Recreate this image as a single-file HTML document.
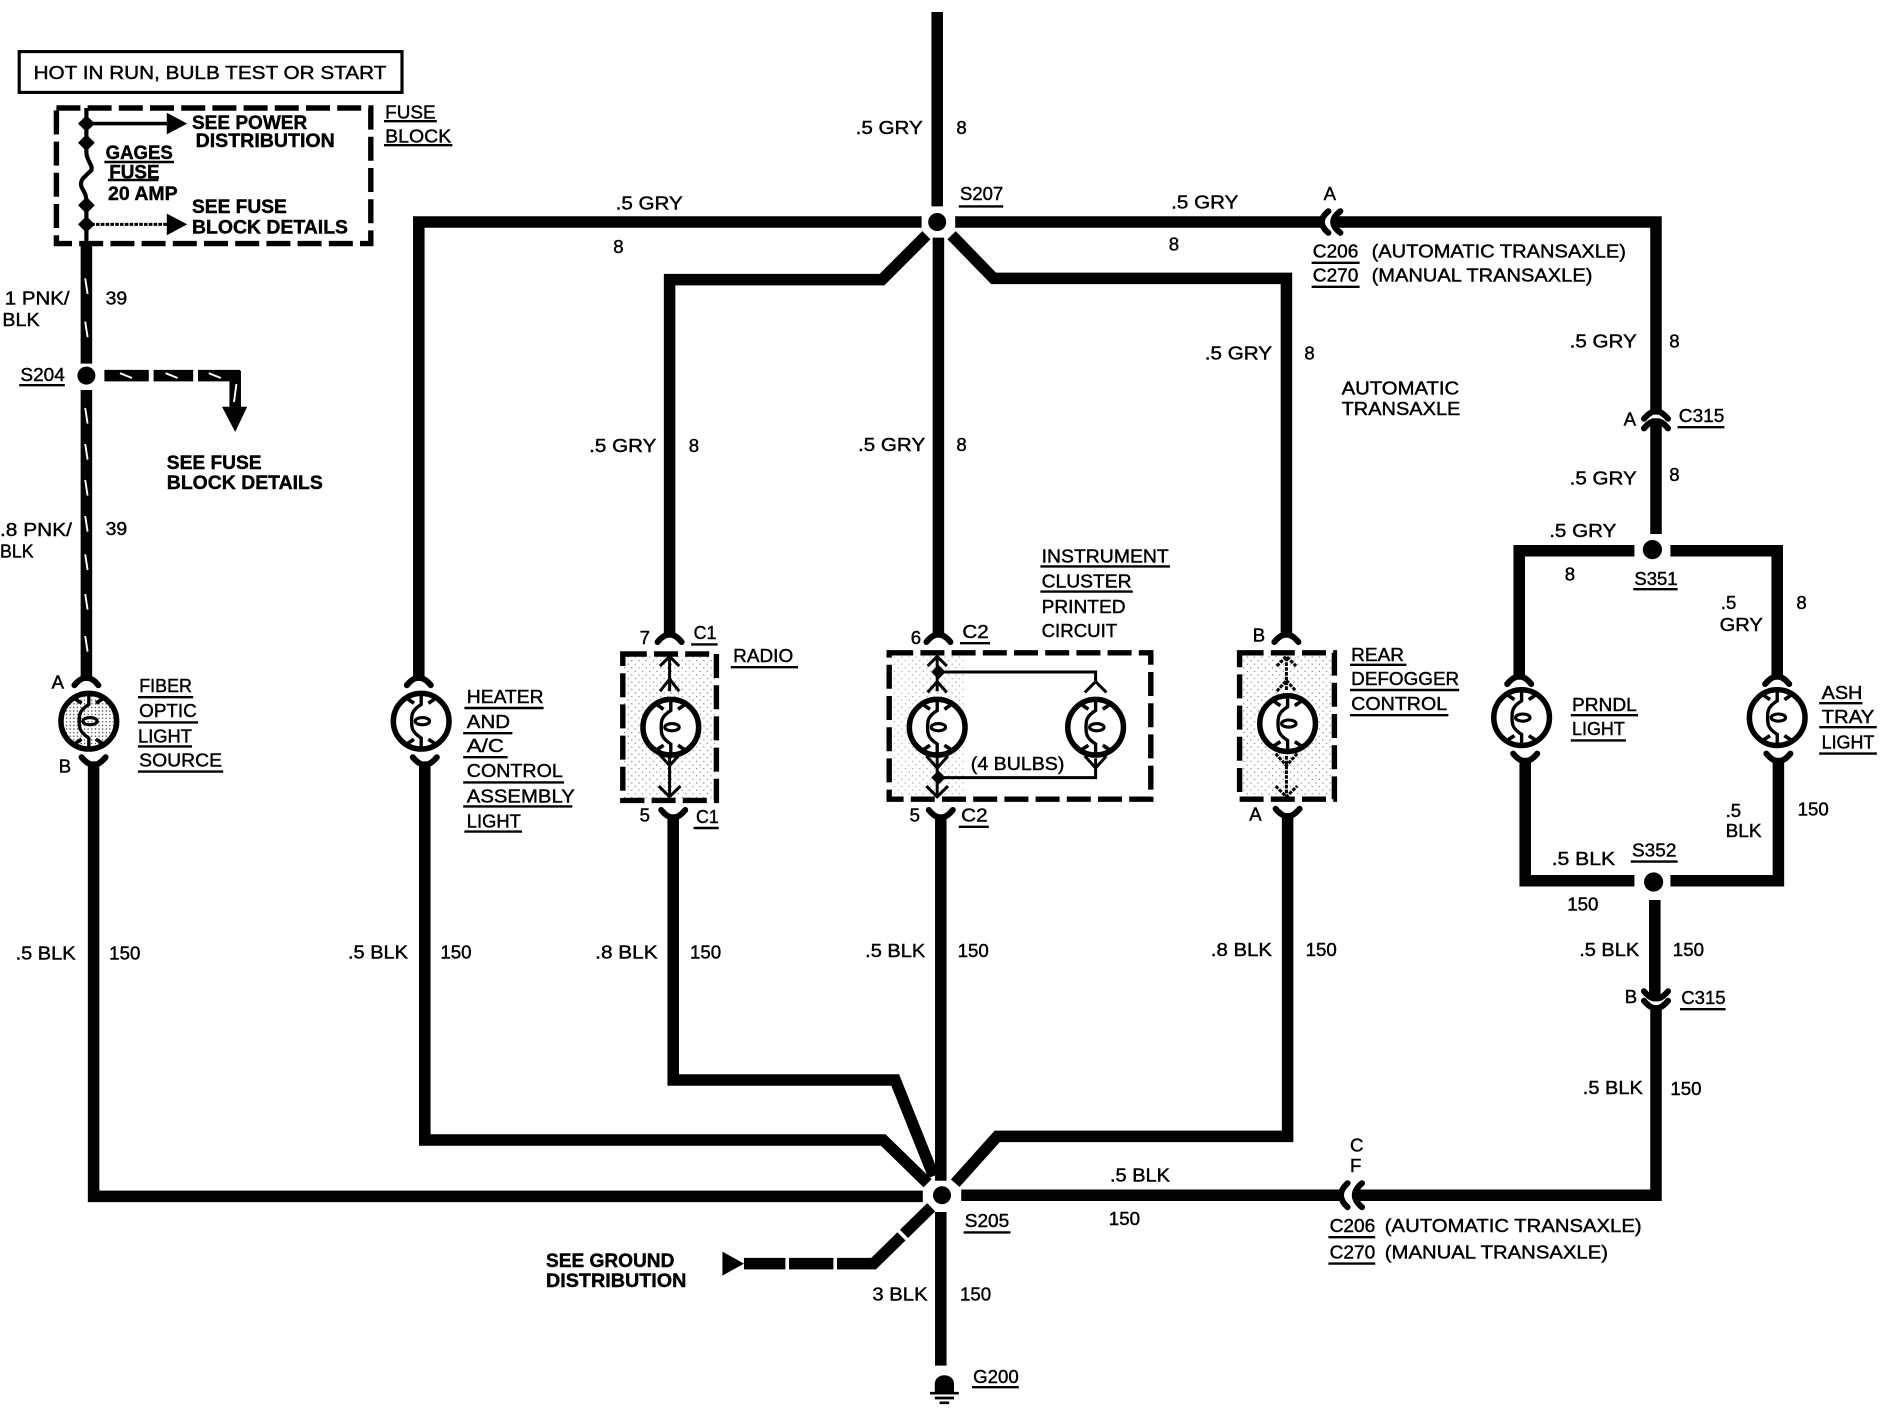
<!DOCTYPE html>
<html lang="en"><head><meta charset="utf-8"><title>Wiring diagram</title>
<style>
html,body{margin:0;padding:0;background:#fff}
svg{display:block;width:1882px;height:1408px}
text{font-family:"Liberation Sans",sans-serif;font-size:15.5px;fill:#000;stroke:#000;stroke-width:.35;transform:translateY(.7px)}
.b{font-weight:bold;font-size:16px}
.w{fill:none;stroke:#000;stroke-width:9.6;stroke-linejoin:miter}
.t{fill:none;stroke:#000;stroke-width:2.5}
.u{fill:none;stroke:#000;stroke-width:2}
.d{fill:none;stroke:#000;stroke-width:4.5;stroke-dasharray:20 6}
.k{fill:none;stroke:#fff;stroke-width:1.6}
</style></head><body>
<svg xmlns="http://www.w3.org/2000/svg" viewBox="0 0 1568.33 1173.33">
<defs>
<pattern id="st" width="3" height="3" patternUnits="userSpaceOnUse"><rect x="1" y="1" width="1" height="1" fill="#222"/></pattern>
<pattern id="sp" width="6" height="6" patternUnits="userSpaceOnUse"><rect x="1" y="1" width="1" height="1" fill="#333"/><rect x="4" y="4" width="1" height="1" fill="#333"/></pattern>
<g id="lamp">
<circle cx="0" cy="0" r="23.2" fill="none" stroke="#000" stroke-width="4.6"/>
<path d="M0,-23 V-14 C-8,-9 -8,-5 -8,0 C-8,5 -8,9 0,14 V23" fill="none" stroke="#000" stroke-width="2.8"/>
<ellipse cx="1" cy="0" rx="6" ry="3" fill="none" stroke="#000" stroke-width="2.6"/>
<path d="M-12,-19 L-6,-15 M12,-19 L6,-15 M-12,19 L-6,15 M12,19 L6,15" fill="none" stroke="#000" stroke-width="3"/>
</g>
<path id="capT" d="M-10,4 Q-6,-1 -2,-2 H2 Q6,-1 10,4" fill="none" stroke="#000" stroke-width="5" stroke-linecap="round"/>
<path id="capB" d="M-10,-4 Q-6,1 -2,2 H2 Q6,1 10,-4" fill="none" stroke="#000" stroke-width="5" stroke-linecap="round"/>
</defs>

<!-- top box -->
<rect x="16" y="43" width="319" height="34" fill="none" stroke="#000" stroke-width="2.6"/>
<text x="28" y="65" textLength="294" lengthAdjust="spacingAndGlyphs">HOT IN RUN, BULB TEST OR START</text>

<!-- fuse block -->
<rect x="47" y="90" width="262" height="113" class="d"/>
<path d="M72,90 V127 M72,127 C72,134 78,138 76,142 C70,148 66,150 68,156 C70,160 72,162 72,168 V203" fill="none" stroke="#000" stroke-width="3.5"/>
<path d="M72,103 H145" fill="none" stroke="#000" stroke-width="3"/>
<path d="M72,187 H145" fill="none" stroke="#000" stroke-width="2.5" stroke-dasharray="3 1"/>
<path d="M139,94 L156,103 L139,112Z M139,178 L156,187 L139,196Z"/>
<path d="M72,96 l7,7 l-7,7 l-7,-7Z M72,112 l7,7 l-7,7 l-7,-7Z M72,164 l7,7 l-7,7 l-7,-7Z M72,180 l7,7 l-7,7 l-7,-7Z"/>
<text class="b" x="160" y="107" textLength="96" lengthAdjust="spacingAndGlyphs">SEE POWER</text>
<text class="b" x="163" y="122" textLength="116" lengthAdjust="spacingAndGlyphs">DISTRIBUTION</text>
<text class="b" x="88" y="132" textLength="56" lengthAdjust="spacingAndGlyphs">GAGES</text><path class="u" d="M87,135 H145"/>
<text class="b" x="91" y="148" textLength="42" lengthAdjust="spacingAndGlyphs">FUSE</text><path class="u" d="M90,150 H132"/>
<text class="b" x="90" y="166" textLength="58" lengthAdjust="spacingAndGlyphs">20 AMP</text>
<text class="b" x="160" y="177" textLength="79" lengthAdjust="spacingAndGlyphs">SEE FUSE</text>
<text class="b" x="160" y="194" textLength="130" lengthAdjust="spacingAndGlyphs">BLOCK DETAILS</text>
<text x="321" y="98" textLength="42" lengthAdjust="spacingAndGlyphs">FUSE</text><path class="u" d="M320,101 H364"/>
<text x="321" y="118" textLength="55" lengthAdjust="spacingAndGlyphs">BLOCK</text><path class="u" d="M320,121 H377"/>

<!-- pink wire -->
<path class="w" d="M72,203 V303 M72,325 V566"/>
<circle cx="72" cy="313" r="7.5"/>
<path class="w" d="M87,313 H124 M128,313 H161 M165,313 H200 M196,309 V340"/>
<path d="M185,339 H206 L196,360Z"/>
<path class="k" d="M71,232 L73,245 M71,268 L73,281 M71,340 L73,353 M71,370 L73,383 M71,400 L73,413 M71,430 L73,443 M71,462 L73,475 M71,495 L73,508 M71,530 L73,543 M100,311 L110,315 M138,311 L148,315 M174,311 L184,315 M197,320 L195,335"/>
<text x="4" y="253" textLength="54" lengthAdjust="spacingAndGlyphs">1 PNK/</text>
<text x="2" y="271" textLength="31" lengthAdjust="spacingAndGlyphs">BLK</text>
<text x="88" y="253" textLength="18" lengthAdjust="spacingAndGlyphs">39</text>
<text x="17" y="317" textLength="37" lengthAdjust="spacingAndGlyphs">S204</text><path class="u" d="M16,321 H54"/>
<text class="b" x="139" y="390" textLength="79" lengthAdjust="spacingAndGlyphs">SEE FUSE</text>
<text class="b" x="139" y="407" textLength="130" lengthAdjust="spacingAndGlyphs">BLOCK DETAILS</text>
<text x="0" y="446" textLength="60" lengthAdjust="spacingAndGlyphs">.8 PNK/</text>
<text x="0" y="464" textLength="28" lengthAdjust="spacingAndGlyphs">BLK</text>
<text x="88" y="445" textLength="18" lengthAdjust="spacingAndGlyphs">39</text>

<!-- GRY wires -->
<path class="w" d="M781,10 V172"/>
<path class="w" d="M768,185 H349 V566"/>
<path class="w" d="M796,185 H1101"/>
<path class="w" d="M1110,185 H1380 V345"/>
<path class="w" d="M772,196 L735,233 H558 V531"/>
<path class="w" d="M782,198 V531"/>
<path class="w" d="M793,196 L828,232 H1072 V531"/>
<circle cx="781" cy="185" r="7.5"/>

<!-- C206 -->
<path d="M1107,176 Q1096,185 1107,194" fill="none" stroke="#000" stroke-width="5" stroke-linecap="round"/>
<path d="M1117,176 Q1105,185 1117,194" fill="none" stroke="#000" stroke-width="5" stroke-linecap="round"/>

<!-- C315 A & right loop -->
<use href="#capT" x="1380" y="345"/><use href="#capT" x="1380" y="353"/>
<path class="w" d="M1380,353 V445"/>
<circle cx="1377" cy="458" r="8"/>
<path class="w" d="M1362,459 H1266 V566"/>
<path class="w" d="M1392,459 H1481 V566"/>
<path class="w" d="M1271,632 V734 H1362"/>
<path class="w" d="M1392,734 H1482 V632"/>
<circle cx="1378" cy="735" r="8"/>
<path class="w" d="M1379,750 V830"/>
<use href="#capB" x="1380" y="830"/><use href="#capB" x="1380" y="838"/>
<path class="w" d="M1380,838 V996 H1128"/>
<path d="M1123,986 Q1112,996 1123,1006" fill="none" stroke="#000" stroke-width="5" stroke-linecap="round"/>
<path d="M1135,986 Q1123,996 1135,1006" fill="none" stroke="#000" stroke-width="5" stroke-linecap="round"/>
<path class="w" d="M1117,996 H801"/>

<!-- BLK wires -->
<path class="w" d="M78,635 V997 H769"/>
<path class="w" d="M354,635 V950 H736 L773,986"/>
<path class="w" d="M561,680 V900 H746 L778,980"/>
<path class="w" d="M784,680 V984"/>
<path class="w" d="M1073,680 V947 H831 L796,986"/>
<circle cx="785" cy="996" r="7.5"/>
<path class="w" d="M784,1010 V1138"/>
<path class="w" d="M776,1006 L728,1053 H620" />
<path d="M748,1025 L756,1033 M696,1047 V1059 M656,1047 V1059" stroke="#fff" stroke-width="3" fill="none"/>
<path d="M602,1043 L620,1053 L602,1063Z"/>
<ellipse cx="787" cy="1153" rx="8" ry="7"/><rect x="779" y="1153" width="16" height="7"/>
<path d="M775,1161 H799 M779,1165 H795 M783,1169 H791" stroke="#000" stroke-width="2.2" fill="none"/>

<!-- dashed boxes with stipple -->
<rect x="520" y="546" width="76" height="120" fill="url(#sp)" opacity=".6"/>
<rect x="743" y="546" width="60" height="118" fill="url(#sp)" opacity=".45"/>
<rect x="1034" y="546" width="76" height="118" fill="url(#sp)" opacity=".6"/>
<rect x="519" y="545" width="78" height="122" class="d" stroke-dasharray="16 8"/>
<rect x="741" y="544" width="218" height="122" class="d" stroke-dasharray="20 8"/>
<rect x="1033" y="544" width="79" height="122" class="d" stroke-dasharray="16 8"/>

<!-- inner thin wiring -->
<g class="t">
<path d="M558,548 V576 M550,555 L558,547 L566,555 M550,576 L558,566 L566,576"/>
<path d="M558,630 V664 M549,655 L558,664 L567,655 M549,628 L558,638 L567,628"/>
<path d="M781,548 V576 M773,555 L781,547 L789,555 M773,577 L781,568 L789,577"/>
<path d="M782,560 H913 V570 M904,577 L913,568 L922,577"/>
<path d="M781,630 V664 M772,655 L781,664 L790,655 M772,630 L781,640 L790,630"/>
<path d="M782,648 H913 V632 M904,630 L913,640 L922,630"/>
<path d="M1072,548 V576 M1064,555 L1072,547 L1080,555 M1064,576 L1072,567 L1080,576" stroke-dasharray="3 1"/>
<path d="M1072,630 V664 M1063,655 L1072,664 L1081,655 M1063,628 L1072,638 L1081,628" stroke-dasharray="3 1"/>
</g>
<path d="M782,554 l6,6 l-6,6 l-6,-6Z M782,642 l6,6 l-6,6 l-6,-6Z"/>

<!-- lamps -->
<circle cx="74" cy="601" r="23" fill="#fff"/><circle cx="74" cy="601" r="23" fill="url(#st)"/>
<use href="#lamp" x="74" y="601"/>
<use href="#lamp" x="351" y="601"/>
<circle cx="559" cy="606" r="23" fill="#fff"/><use href="#lamp" x="559" y="606"/>
<circle cx="781" cy="606" r="23" fill="#fff"/><use href="#lamp" x="781" y="606"/>
<circle cx="913" cy="606" r="23" fill="#fff"/><use href="#lamp" x="913" y="606"/>
<circle cx="1073" cy="603" r="23" fill="#fff"/><use href="#lamp" x="1073" y="603"/>
<use href="#lamp" x="1268" y="598"/>
<use href="#lamp" x="1481" y="598"/>

<!-- caps at lamps -->
<use href="#capT" x="72" y="567"/><use href="#capB" x="78" y="635"/>
<use href="#capT" x="349" y="567"/><use href="#capB" x="354" y="635"/>
<use href="#capT" x="558" y="531"/><use href="#capB" x="561" y="679"/>
<use href="#capT" x="782" y="531"/><use href="#capB" x="784" y="679"/>
<use href="#capT" x="1072" y="531"/><use href="#capB" x="1073" y="678"/>
<use href="#capT" x="1266" y="566"/><use href="#capB" x="1271" y="632"/>
<use href="#capT" x="1481" y="566"/><use href="#capB" x="1482" y="632"/>

<!-- labels: component names -->
<text x="43" y="573">A</text><text x="49" y="643">B</text>
<text x="116" y="576" textLength="44" lengthAdjust="spacingAndGlyphs">FIBER</text><path class="u" d="M115,581 H161"/>
<text x="116" y="597" textLength="48" lengthAdjust="spacingAndGlyphs">OPTIC</text><path class="u" d="M115,602 H165"/>
<text x="115" y="618" textLength="45" lengthAdjust="spacingAndGlyphs">LIGHT</text><path class="u" d="M115,622 H160"/>
<text x="116" y="638" textLength="69" lengthAdjust="spacingAndGlyphs">SOURCE</text><path class="u" d="M115,643 H186"/>

<text x="389" y="585" textLength="64" lengthAdjust="spacingAndGlyphs">HEATER</text><path class="u" d="M387,590 H453"/>
<text x="389" y="606" textLength="36" lengthAdjust="spacingAndGlyphs">AND</text><path class="u" d="M386,611 H427"/>
<text x="389" y="626" textLength="31" lengthAdjust="spacingAndGlyphs">A/C</text><path class="u" d="M386,631 H423"/>
<text x="389" y="647" textLength="80" lengthAdjust="spacingAndGlyphs">CONTROL</text><path class="u" d="M386,652 H470"/>
<text x="389" y="668" textLength="90" lengthAdjust="spacingAndGlyphs">ASSEMBLY</text><path class="u" d="M386,672 H477"/>
<text x="389" y="689" textLength="45" lengthAdjust="spacingAndGlyphs">LIGHT</text><path class="u" d="M387,693 H435"/>

<text x="533" y="536">7</text>
<text x="578" y="532" textLength="19" lengthAdjust="spacingAndGlyphs">C1</text><path class="u" d="M576,537 H598"/>
<text x="611" y="551" textLength="50" lengthAdjust="spacingAndGlyphs">RADIO</text><path class="u" d="M609,556 H665"/>
<text x="533" y="684">5</text>
<text x="580" y="685" textLength="19" lengthAdjust="spacingAndGlyphs">C1</text><path class="u" d="M578,690 H599"/>

<text x="759" y="536">6</text>
<text x="802" y="531" textLength="22" lengthAdjust="spacingAndGlyphs">C2</text><path class="u" d="M800,536 H825"/>
<text x="758" y="684">5</text>
<text x="801" y="684" textLength="22" lengthAdjust="spacingAndGlyphs">C2</text><path class="u" d="M799,689 H824"/>
<text x="868" y="468" textLength="106" lengthAdjust="spacingAndGlyphs">INSTRUMENT</text><path class="u" d="M867,472 H975"/>
<text x="868" y="489" textLength="75" lengthAdjust="spacingAndGlyphs">CLUSTER</text><path class="u" d="M867,493 H944"/>
<text x="868" y="510" textLength="70" lengthAdjust="spacingAndGlyphs">PRINTED</text>
<text x="868" y="530" textLength="63" lengthAdjust="spacingAndGlyphs">CIRCUIT</text>
<text x="809" y="641" textLength="78" lengthAdjust="spacingAndGlyphs">(4 BULBS)</text>

<text x="1044" y="534">B</text><text x="1041" y="683">A</text>
<text x="1126" y="550" textLength="44" lengthAdjust="spacingAndGlyphs">REAR</text><path class="u" d="M1125,554 H1172"/>
<text x="1126" y="570" textLength="90" lengthAdjust="spacingAndGlyphs">DEFOGGER</text><path class="u" d="M1125,575 H1216"/>
<text x="1126" y="591" textLength="80" lengthAdjust="spacingAndGlyphs">CONTROL</text><path class="u" d="M1125,596 H1207"/>

<text x="1310" y="592" textLength="54" lengthAdjust="spacingAndGlyphs">PRNDL</text><path class="u" d="M1309,596 H1365"/>
<text x="1310" y="612" textLength="44" lengthAdjust="spacingAndGlyphs">LIGHT</text><path class="u" d="M1309,617 H1355"/>
<text x="1518" y="582" textLength="34" lengthAdjust="spacingAndGlyphs">ASH</text><path class="u" d="M1516,586 H1552"/>
<text x="1518" y="602" textLength="44" lengthAdjust="spacingAndGlyphs">TRAY</text><path class="u" d="M1516,606 H1564"/>
<text x="1518" y="623" textLength="44" lengthAdjust="spacingAndGlyphs">LIGHT</text><path class="u" d="M1516,628 H1564"/>

<!-- labels: wires GRY -->
<text x="713" y="111" textLength="56" lengthAdjust="spacingAndGlyphs">.5 GRY</text><text x="797" y="111">8</text>
<text x="513" y="174" textLength="56" lengthAdjust="spacingAndGlyphs">.5 GRY</text><text x="511" y="210">8</text>
<text x="800" y="166" textLength="36" lengthAdjust="spacingAndGlyphs">S207</text><path class="u" d="M799,172 H836"/>
<text x="976" y="173" textLength="56" lengthAdjust="spacingAndGlyphs">.5 GRY</text><text x="974" y="208">8</text>
<text x="1103" y="166">A</text>
<text x="1094" y="214" textLength="38" lengthAdjust="spacingAndGlyphs">C206</text><path class="u" d="M1093,219 H1133"/>
<text x="1143" y="214" textLength="212" lengthAdjust="spacingAndGlyphs">(AUTOMATIC TRANSAXLE)</text>
<text x="1094" y="234" textLength="38" lengthAdjust="spacingAndGlyphs">C270</text><path class="u" d="M1093,239 H1133"/>
<text x="1143" y="234" textLength="184" lengthAdjust="spacingAndGlyphs">(MANUAL TRANSAXLE)</text>
<text x="1004" y="299" textLength="56" lengthAdjust="spacingAndGlyphs">.5 GRY</text><text x="1087" y="299">8</text>
<text x="1118" y="328" textLength="98" lengthAdjust="spacingAndGlyphs">AUTOMATIC</text>
<text x="1118" y="345" textLength="99" lengthAdjust="spacingAndGlyphs">TRANSAXLE</text>
<text x="1308" y="289" textLength="56" lengthAdjust="spacingAndGlyphs">.5 GRY</text><text x="1391" y="289">8</text>
<text x="1353" y="354">A</text>
<text x="1399" y="351" textLength="38" lengthAdjust="spacingAndGlyphs">C315</text><path class="u" d="M1398,356 H1437"/>
<text x="1308" y="403" textLength="56" lengthAdjust="spacingAndGlyphs">.5 GRY</text><text x="1391" y="400">8</text>
<text x="1291" y="447" textLength="56" lengthAdjust="spacingAndGlyphs">.5 GRY</text>
<text x="1304" y="483">8</text>
<text x="1362" y="487" textLength="36" lengthAdjust="spacingAndGlyphs">S351</text><path class="u" d="M1361,491 H1398"/>
<text x="1434" y="507">.5</text><text x="1433" y="525" textLength="36" lengthAdjust="spacingAndGlyphs">GRY</text><text x="1497" y="507">8</text>
<text x="491" y="376" textLength="56" lengthAdjust="spacingAndGlyphs">.5 GRY</text><text x="574" y="376">8</text>
<text x="715" y="375" textLength="56" lengthAdjust="spacingAndGlyphs">.5 GRY</text><text x="797" y="375">8</text>

<!-- labels: wires BLK -->
<text x="13" y="799" textLength="50" lengthAdjust="spacingAndGlyphs">.5 BLK</text><text x="91" y="799" textLength="26" lengthAdjust="spacingAndGlyphs">150</text>
<text x="290" y="798" textLength="50" lengthAdjust="spacingAndGlyphs">.5 BLK</text><text x="367" y="798" textLength="26" lengthAdjust="spacingAndGlyphs">150</text>
<text x="496" y="798" textLength="52" lengthAdjust="spacingAndGlyphs">.8 BLK</text><text x="575" y="798" textLength="26" lengthAdjust="spacingAndGlyphs">150</text>
<text x="721" y="797" textLength="50" lengthAdjust="spacingAndGlyphs">.5 BLK</text><text x="798" y="797" textLength="26" lengthAdjust="spacingAndGlyphs">150</text>
<text x="1009" y="796" textLength="51" lengthAdjust="spacingAndGlyphs">.8 BLK</text><text x="1088" y="796" textLength="26" lengthAdjust="spacingAndGlyphs">150</text>
<text x="1293" y="720" textLength="53" lengthAdjust="spacingAndGlyphs">.5 BLK</text>
<text x="1360" y="713" textLength="37" lengthAdjust="spacingAndGlyphs">S352</text><path class="u" d="M1359,718 H1398"/>
<text x="1306" y="758" textLength="26" lengthAdjust="spacingAndGlyphs">150</text>
<text x="1438" y="680">.5</text><text x="1438" y="697" textLength="30" lengthAdjust="spacingAndGlyphs">BLK</text>
<text x="1498" y="679" textLength="26" lengthAdjust="spacingAndGlyphs">150</text>
<text x="1316" y="796" textLength="50" lengthAdjust="spacingAndGlyphs">.5 BLK</text><text x="1394" y="796" textLength="26" lengthAdjust="spacingAndGlyphs">150</text>
<text x="1354" y="835">B</text>
<text x="1401" y="836" textLength="37" lengthAdjust="spacingAndGlyphs">C315</text><path class="u" d="M1400,841 H1438"/>
<text x="1319" y="911" textLength="50" lengthAdjust="spacingAndGlyphs">.5 BLK</text><text x="1392" y="912" textLength="26" lengthAdjust="spacingAndGlyphs">150</text>
<text x="1125" y="959">C</text><text x="1125" y="976">F</text>
<text x="925" y="984" textLength="50" lengthAdjust="spacingAndGlyphs">.5 BLK</text><text x="924" y="1020" textLength="26" lengthAdjust="spacingAndGlyphs">150</text>
<text x="804" y="1022" textLength="37" lengthAdjust="spacingAndGlyphs">S205</text><path class="u" d="M803,1027 H842"/>
<text x="1108" y="1026" textLength="38" lengthAdjust="spacingAndGlyphs">C206</text><path class="u" d="M1107,1031 H1146"/>
<text x="1154" y="1026" textLength="214" lengthAdjust="spacingAndGlyphs">(AUTOMATIC TRANSAXLE)</text>
<text x="1108" y="1048" textLength="38" lengthAdjust="spacingAndGlyphs">C270</text><path class="u" d="M1107,1053 H1146"/>
<text x="1154" y="1048" textLength="186" lengthAdjust="spacingAndGlyphs">(MANUAL TRANSAXLE)</text>
<text class="b" x="455" y="1055" textLength="107" lengthAdjust="spacingAndGlyphs">SEE GROUND</text>
<text class="b" x="455" y="1072" textLength="117" lengthAdjust="spacingAndGlyphs">DISTRIBUTION</text>
<text x="727" y="1083" textLength="46" lengthAdjust="spacingAndGlyphs">3 BLK</text><text x="800" y="1083" textLength="26" lengthAdjust="spacingAndGlyphs">150</text>
<text x="811" y="1152" textLength="38" lengthAdjust="spacingAndGlyphs">G200</text><path class="u" d="M810,1156 H849"/>
</svg>
</body></html>
